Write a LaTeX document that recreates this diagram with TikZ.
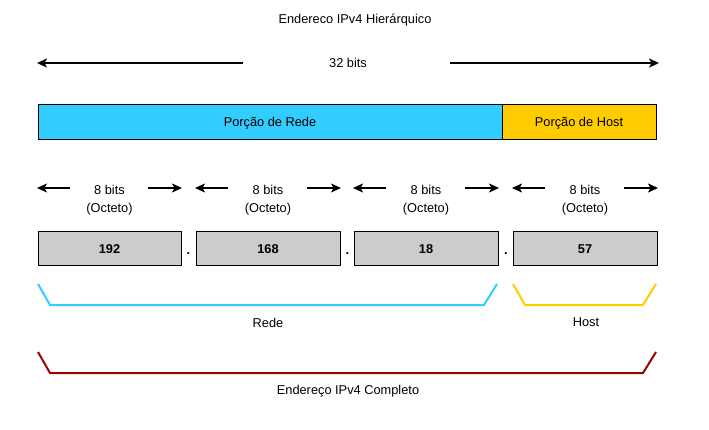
\documentclass[tikz,border=0pt]{standalone}
\usepackage{fontspec}
\setmainfont{Liberation Sans}
\usetikzlibrary{arrows.meta}
\definecolor{netblue}{HTML}{33CCFF}
\definecolor{hostyel}{HTML}{FFCC00}
\definecolor{octgray}{HTML}{CCCCCC}
\definecolor{fullred}{HTML}{990000}
\begin{document}
\begin{tikzpicture}[x=1pt,y=-1pt,
  lbl/.style={font=\fontsize{12.8}{15}\selectfont, inner sep=0pt, yshift=-1.5pt},
  numlbl/.style={font=\fontsize{12.8}{15}\selectfont\bfseries, inner sep=0pt, yshift=-1pt},
  arr/.style={line width=1.5pt, -{Stealth[length=10pt,width=9pt,inset=2.5pt]}},
  box/.style={draw=black, line width=0.8pt},
  brack/.style={line width=2pt}]
\useasboundingbox (0,0) rectangle (709,429);
% title
\node[lbl] (title) at (355,19) {Endereco IPv4 Hierárquico};
% 32 bits
\node[lbl] (bits32) at (348,61) {32 bits};
\coordinate (a32l) at (243,63); \coordinate (a32le) at (37,63);
\coordinate (a32r) at (450,63); \coordinate (a32re) at (659,63);
\draw[arr] (a32l) -- (a32le);
\draw[arr] (a32r) -- (a32re);
% portions
\draw[box, fill=netblue] (38,104) rectangle (502,139);
\node[lbl] (rede) at (270,121.5) {Porção de Rede};
\draw[box, fill=hostyel] (502,104) rectangle (656,139);
\node[lbl] (host) at (579,121.5) {Porção de Host};
% octets
\foreach \i/\xl/\xr/\xc in {1/38/181/109.5, 2/196/340/268, 3/354/498/426, 4/513/657/585}{
  \node[lbl] (b\i) at (\xc,188) {8 bits};
  \node[lbl] (o\i) at (\xc,208) {(Octeto)};
  \coordinate (al\i) at (\xl+32,188); \coordinate (ale\i) at (\xl-1,188);
  \coordinate (ar\i) at (\xr-33,188); \coordinate (are\i) at (\xr+1,188);
  \draw[arr] (al\i) -- (ale\i);
  \draw[arr] (ar\i) -- (are\i);
  \draw[box, fill=octgray] (\xl,231) rectangle (\xr,265);
}
\node[numlbl] (n1) at (109.5,248) {192};
\node[numlbl] (n2) at (268,248) {168};
\node[numlbl] (n3) at (426,248) {18};
\node[numlbl] (n4) at (585,248) {57};
\node[numlbl, anchor=base] (d1) at (188.5,253) {.};
\node[numlbl, anchor=base] (d2) at (347.5,253) {.};
\node[numlbl, anchor=base] (d3) at (506,253) {.};
% brackets
\draw[brack, netblue] (38,284) -- (50,305) -- (484,305) -- (497,284);
\node[lbl] (redelbl) at (268,321) {Rede};
\draw[brack, hostyel] (513,284) -- (525,305) -- (643,305) -- (656,284);
\node[lbl] (hostlbl) at (586,321) {Host};
\draw[brack, fullred] (38,352) -- (50,373) -- (643,373) -- (656,352);
\node[lbl] (full) at (348,390) {Endereço IPv4 Completo};
\end{tikzpicture}
\end{document}
